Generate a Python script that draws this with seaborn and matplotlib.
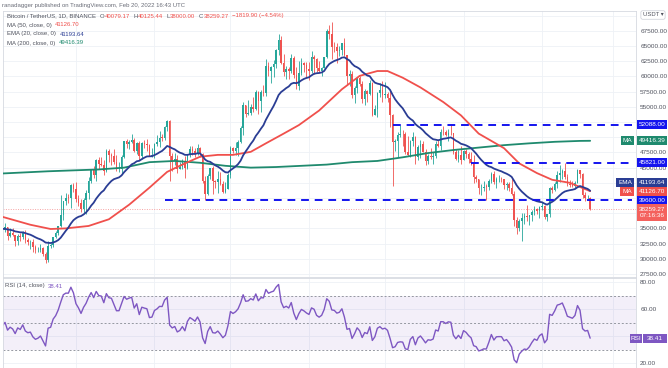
import numpy as np
import pandas as pd
import matplotlib
matplotlib.use('Agg')
import matplotlib.pyplot as plt
from matplotlib.patches import Rectangle
import seaborn as sns

# Daily BTC/USDT candles, 1 Jul 2021 -> 20 Feb 2022 (open = previous close)
first_open = 35045
close = [
    33543, 33814, 34669, 35287, 33690, 34220, 33863, 32875, 33815, 33502, 34259, 33086, 32730, 32820, 31880, 31383,
    31520, 31778, 30839, 29790, 32144, 32287, 33634, 34258, 35381, 37237, 39457, 40019, 40016, 42206, 41461,
    39845, 39147, 38207, 39723, 40862, 42836, 44614, 43792, 46285, 45585, 45511, 44400, 47800, 47068, 46974, 45901,
    44696, 44707, 46760, 49322, 48821, 49239, 49507, 47674, 48973, 46844, 49070, 48895, 48767, 46971, 47100,
    48810, 49247, 49942, 49915, 51757, 52663, 46863, 46048, 46395, 44851, 45171, 46025, 44940, 47111, 48121,
    47737, 47299, 48293, 47241, 42843, 40693, 43574, 44895, 42839, 42716, 43208, 42235, 41034, 41564, 43790,
    48165, 47657, 48233, 49245, 51493, 55339, 53797, 53964, 54966, 54690, 57484, 56006, 57367, 57347, 61672, 60875,
    61528, 62009, 64280, 66001, 62193, 60688, 61286, 60852, 63078, 60328, 58413, 60575, 62253, 61859, 61299,
    60911, 63219, 62896, 61395, 60937, 61470, 63273, 67525, 66947, 64882, 64774, 64122, 64380, 65466, 63557,
    60161, 60368, 56942, 58119, 59697, 58730, 56289, 57570, 57177, 58960, 53727, 54721, 57274, 57777, 56950,
    57184, 56480, 53601, 49152, 49397, 50441, 50589, 50471, 47545, 47140, 49389, 50053, 46702, 48343, 48864, 47632,
    46131, 46834, 46681, 46914, 48889, 48588, 50838, 50820, 50400, 50775, 50701, 47543, 46464, 47120, 46216,
    47722, 47286, 46446, 45833, 43425, 43082, 41566, 41679, 41864, 41822, 42729, 43902, 42560, 43059, 43084, 43071,
    42201, 42352, 41660, 40680, 36445, 35071, 36244, 36660, 36958, 36809, 37160, 37716, 38166, 37881, 38466,
    38690, 36896, 37311, 41574, 41382, 42380, 43840, 44038, 44388, 43521, 42373, 42217, 42053, 42535, 44544, 43873,
    40515, 39974, 40079, 38259.27]
high = [
    35100, 33939, 34950, 35967, 35293, 35118, 35059, 33929, 34100, 34262, 34590, 34679, 33339, 33114, 33185, 32249,
    31949, 32435, 31899, 31063, 32859, 32575, 33650, 34500, 35398, 40550, 39542, 40900, 40640, 42316, 42448,
    42599, 40459, 39780, 39969, 41350, 43392, 44700, 45310, 46456, 46700, 46743, 46218, 48144, 48000, 47372, 48053,
    47160, 46000, 47033, 49382, 49757, 49500, 50500, 49875, 49230, 49347, 49149, 49500, 49632, 48906, 48250,
    49000, 50392, 51000, 50559, 51900, 52920, 52800, 47381, 47400, 47033, 45987, 46460, 46880, 47250, 48484,
    48500, 48164, 48843, 48372, 47336, 43639, 44000, 44978, 45200, 42966, 44366, 44350, 42787, 42590, 44132,
    48495, 48359, 49228, 49536, 51886, 55750, 55332, 56100, 55490, 56561, 57839, 57680, 57750, 58532, 62933, 62378,
    61718, 62695, 64487, 67000, 66639, 63733, 61747, 61500, 63710, 63293, 61496, 62499, 62980, 62359, 62405,
    62437, 64270, 63500, 63086, 62595, 61560, 63286, 67789, 68524, 69000, 65600, 65460, 64972, 65550, 66400,
    63617, 61000, 60977, 58412, 59859, 60000, 59266, 57875, 57800, 59398, 59150, 55329, 57445, 58872, 59249,
    59053, 57375, 57600, 53904, 49700, 50891, 51936, 51200, 50797, 50125, 49485, 50797, 50189, 48700, 49500, 49436,
    47995, 47315, 48300, 47537, 49328, 49576, 51375, 51810, 51156, 51280, 52088, 50704, 48119, 47900, 48548,
    47954, 47990, 47570, 47505, 47070, 43749, 43145, 42300, 42786, 42249, 43100, 44322, 44458, 43448, 43800, 43475,
    43180, 42691, 42559, 43505, 41100, 36835, 36499, 37550, 37545, 38919, 37234, 38000, 38720, 38360, 38744,
    39265, 38855, 37387, 41772, 41913, 42656, 44500, 45492, 44799, 45821, 43920, 43000, 42760, 42876, 44770, 44583,
    44164, 40959, 40444, 40125.44]
low = [
    32711, 32699, 33316, 34357, 33125, 33532, 33767, 32077, 32261, 33005, 33333, 32658, 32202, 31550, 31133, 31020,
    31179, 31108, 30407, 29278, 29482, 31708, 32000, 33401, 33881, 35205, 36384, 38772, 39200, 38313, 41000,
    39422, 38690, 37642, 37508, 37332, 39853, 42450, 43261, 42848, 44800, 45351, 43770, 44250, 45971, 45500, 45660,
    44377, 44203, 43927, 46646, 48273, 48010, 49029, 47600, 47163, 46250, 46360, 48300, 47762, 46853, 46700,
    46513, 48584, 48316, 49400, 49476, 50969, 42843, 44412, 45514, 44132, 44722, 44742, 43370, 44750, 46669,
    47044, 46750, 47047, 46829, 42500, 39600, 40565, 43069, 40675, 41646, 40829, 42098, 40888, 40753, 41410,
    43283, 47438, 47088, 46891, 49020, 50382, 53357, 53600, 53661, 54080, 54415, 53879, 54167, 56818, 56850, 60150,
    58963, 59844, 61322, 63481, 62000, 60000, 59668, 59510, 60650, 59817, 58000, 57820, 60174, 60673, 59945,
    59405, 60624, 60382, 60677, 60721, 60050, 61322, 63000, 66222, 62822, 64100, 62278, 63360, 63576, 63400,
    58574, 58373, 56474, 55600, 57354, 58500, 55630, 55317, 55837, 57000, 53500, 53669, 53257, 56664, 55875,
    56458, 55777, 51680, 42000, 47727, 46751, 50039, 48600, 47320, 46852, 46751, 48638, 45672, 46290, 46547, 47511,
    45456, 45578, 46406, 45558, 46630, 48421, 47920, 50384, 50171, 49412, 50449, 47313, 46201, 45900, 45678,
    46208, 46654, 45696, 45502, 42500, 42645, 40610, 40502, 41200, 39650, 41269, 42450, 42311, 41725, 42555, 42581,
    41540, 41250, 41138, 40553, 35440, 34009, 34602, 32917, 35701, 36234, 35507, 36155, 37268, 37351, 36632,
    38000, 36586, 36250, 36900, 40843, 41116, 41645, 42666, 43117, 43200, 41938, 41748, 41870, 41569, 42427, 43311,
    40073, 39450, 39639, 38000]

# MA50
ma50_days = [2, 13, 21, 27, 36, 44, 52, 60, 67, 73, 80, 87, 93, 100, 106, 113, 119, 127, 136, 143, 150, 154,
             160, 167, 176, 183, 190, 200, 206, 213, 219, 226, 234]
ma50 = [36900, 35600, 34900, 35000, 35400, 36500, 38900, 41700, 44300, 45500, 46800, 47100, 47100, 47600, 49000,
        50600, 52000, 54400, 57900, 60100, 60900, 60900, 59800, 58200, 55800, 53600, 50600, 48200, 45700, 44100,
        43000, 42500, 41126.70]
# MA200 (every 10 days)
ma200_days = [0, 10, 20, 30, 40, 50, 60, 70, 80, 90, 100, 110, 120, 130, 140, 150, 160, 170, 180, 190, 200, 210,
              220, 230, 234]
ma200 = [44000, 44200, 44400, 44550, 44700, 45000, 45900, 46100, 45800, 45300, 45000, 45100, 45300, 45500, 45900,
         46100, 46700, 47400, 47900, 48300, 48700, 49000, 49250, 49400, 49416.39]
ema20_start = 35200
rsi_start = 48

levels = [52088, 45821, 39600]
level_from = [156, 187, 66]
month_days = [31, 62, 92, 123, 153, 184, 215, 243]

sns.set_theme(style='white')
plt.rcParams['font.family'] = ['Liberation Sans', 'DejaVu Sans']

W, H = 668, 368
fig = plt.figure(figsize=(W / 100, H / 100), dpi=100)
ax = fig.add_axes([3 / W, 1 - 277 / H, 633 / W, 266 / H])
ax_rsi = fig.add_axes([3 / W, 0, 633 / W, 90 / H])

df = pd.DataFrame({'close': close, 'high': high, 'low': low})
df['day'] = np.arange(len(df))
df['open'] = df['close'].shift(1).fillna(first_open)
df['high'] = df[['high', 'open', 'close']].max(axis=1)
df['low'] = df[['low', 'open', 'close']].min(axis=1)
df['ema20'] = pd.concat([pd.Series([ema20_start]), df['close']], ignore_index=True).ewm(span=20, adjust=False).mean()[1:].values

# RSI (14) with Wilder smoothing
delta = df['close'] - df['open']
gain = pd.concat([pd.Series([rsi_start * 10.0]), delta.clip(lower=0)], ignore_index=True)
loss = pd.concat([pd.Series([(100 - rsi_start) * 10.0]), (-delta).clip(lower=0)], ignore_index=True)
ag = gain.ewm(alpha=1 / 14, adjust=False).mean()[1:].values
al = loss.ewm(alpha=1 / 14, adjust=False).mean()[1:].values
df['rsi'] = 100 - 100 / (1 + ag / al)

up_c, dn_c = '#26a69a', '#ef5350'
cols = np.where(df['close'] >= df['open'], up_c, dn_c)

grid_c = '#eef1f6'
for a in (ax, ax_rsi):
    a.set_xlim(2.2, 252.1)
    a.set_xticks(month_days)
    a.grid(True, axis='both', color=grid_c, lw=0.6)
    a.tick_params(axis='x', labelbottom=False, length=0)
    a.yaxis.tick_right()
    a.tick_params(axis='y', length=0, pad=3, labelsize=4.6, labelcolor='#50535e')
    for s in a.spines.values():
        s.set_color('#d6d9e0')
        s.set_linewidth(0.6)
    a.set_facecolor('white')

price_ticks = np.arange(27500, 70001, 2500)
hidden = {70000, 52500, 50000, 42500, 40000, 37500}  # covered by the price tags
ax.set_ylim(27000, 70780)
ax.set_yticks(price_ticks)
ax.set_yticklabels(['' if v in hidden else f'{v:.2f}' for v in price_ticks])

# candles
ax.vlines(df['day'], df['low'], df['high'], colors=cols, lw=0.6, zorder=3)
body = np.maximum((df['close'] - df['open']).abs(), 80)
ax.bar(df['day'], body, bottom=np.minimum(df['open'], df['close']), width=0.62, color=cols, lw=0, zorder=3)

# indicators
sns.lineplot(x=ma200_days, y=ma200, ax=ax, color='#1f8a6e', lw=1.3, zorder=4)
sns.lineplot(x=ma50_days, y=ma50, ax=ax, color='#f0504c', lw=1.3, zorder=4)
sns.lineplot(data=df, x='day', y='ema20', ax=ax, color='#2a3d94', lw=1.3, zorder=5)
ax.set_xlabel('')
ax.set_ylabel('')

for lvl, d0 in zip(levels, level_from):
    ax.hlines(lvl, d0, 250.5, color='#1414ee', lw=1.4, linestyles=(0, (4, 3)), zorder=6)
ax.axhline(close[-1], color='#f5a3a3', lw=0.7, ls=(0, (1, 1.5)), zorder=2)

# RSI panel
ax_rsi.set_ylim(16.3, 83)
ax_rsi.set_yticks([20, 40, 60, 80])
ax_rsi.set_yticklabels(['20.00', '', '60.00', '80.00'])
ax_rsi.axhspan(30, 70, color='#7e57c2', alpha=0.09, lw=0)
for v in (30, 50, 70):
    ax_rsi.axhline(v, color='#9598a1', lw=0.7, ls=(0, (2, 2)))
sns.lineplot(data=df, x='day', y='rsi', ax=ax_rsi, color='#7e57c2', lw=1.0)
ax_rsi.set_xlabel('')
ax_rsi.set_ylabel('')

fs = 4.3
txt_c = '#50535e'
renderer = fig.canvas.get_renderer()


def chain(x_px, y_px, parts):
    # parts: (text, colour, gap in pixels before it); widths measured one by one
    x = x_px
    for s, c, gap in parts:
        x += gap
        t = fig.text(x / W, 1 - y_px / H, s, color=c, fontsize=fs, va='center', ha='left')
        x += t.get_window_extent(renderer=renderer).width


fig.text(2 / W, 1 - 5 / H, 'ranadagger published on TradingView.com, Feb 20, 2022 16:43 UTC',
         color='#6a6d78', fontsize=fs, va='center')
red = '#f0504c'
chain(7, 16, [('Bitcoin / TetherUS, 1D, BINANCE', txt_c, 0), ('O', txt_c, 3.5), ('40079.17', red, 0.3),
              ('H', txt_c, 3.5), ('40125.44', red, 0.3), ('L', txt_c, 3.5), ('38000.00', red, 0.3),
              ('C', txt_c, 3.5), ('38259.27', red, 0.3), ('\u22121819.90 (\u22124.54%)', red, 3.5)])
chain(7, 25, [('MA (50, close, 0)', txt_c, 0), ('41126.70', red, 3.5)])
chain(7, 34, [('EMA (20, close, 0)', txt_c, 0), ('41193.64', '#2a3d94', 3.5)])
chain(7, 43, [('MA (200, close, 0)', txt_c, 0), ('49416.39', '#1f8a6e', 3.5)])
chain(5, 286, [('RSI (14, close)', txt_c, 0), ('38.41', '#7e57c2', 3.5)])


def tag(x0, x1, y_px, h, fc, text, tc='white'):
    fig.add_artist(Rectangle((x0 / W, 1 - (y_px + h / 2) / H), (x1 - x0) / W, h / H,
                             transform=fig.transFigure, fc=fc, ec='none', zorder=10))
    fig.text((x0 + x1) / 2 / W, 1 - y_px / H, text, color=tc, fontsize=4.6, ha='center', va='center',
             zorder=11, linespacing=1.25)


def price_y(p):
    return float(H - ax.transData.transform((0, p))[1])


blue = '#1414ee'
tag(637, 667, price_y(52088), 9, blue, '52088.00')
tag(621, 634, price_y(49416.39), 9, '#1f8a6e', 'MA')
tag(637, 667, price_y(49416.39), 9, '#1f8a6e', '49416.39')
tag(637, 667, price_y(45821), 9, blue, '45821.00')
tag(616, 634, price_y(41193.64) - 8, 9, '#2a3d94', 'EMA')
tag(637, 667, price_y(41193.64) - 8, 9, '#2a3d94', '41193.64')
tag(620, 634, price_y(41126.70), 9, red, 'MA')
tag(637, 667, price_y(41126.70), 9, red, '41126.70')
tag(637, 667, price_y(39600), 9, blue, '39600.00')
tag(637, 667, price_y(38259.27) + 4, 17, '#f4615d', '38259.27\n07:16:36')

rsi_y = float(H - ax_rsi.transData.transform((0, df['rsi'].iloc[-1]))[1])
tag(630, 642, rsi_y, 9, '#7e57c2', 'RSI')
tag(643, 667, rsi_y, 9, '#7e57c2', f"{df['rsi'].iloc[-1]:.2f}")

fig.text(653 / W, 1 - 15 / H, 'USDT \u25be', color=txt_c, fontsize=4.2, ha='center', va='center',
         bbox=dict(boxstyle='round,pad=0.3', fc='white', ec='#c9ccd4', lw=0.5))

fig.savefig('out.png', dpi=100, facecolor='white')
